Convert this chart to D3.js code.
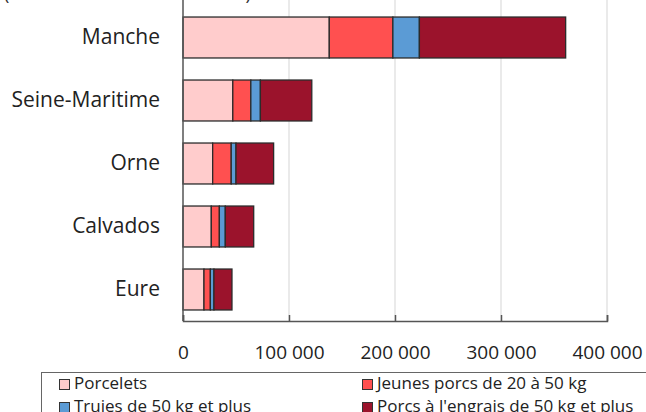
<!DOCTYPE html>
<html>
<head>
<meta charset="utf-8">
<title>Cheptel porcin par département</title>
<script src="https://cdn.jsdelivr.net/npm/d3@7"></script>
<style>
  body { margin: 0; background: #fff; }
  svg { display: block; }
</style>
</head>
<body>
<svg width="646" height="412"></svg>
<script>
// données (nombre de têtes)
var departements = ["Manche", "Seine-Maritime", "Orne", "Calvados", "Eure"];
var series = ["Porcelets", "Jeunes porcs de 20 à 50 kg", "Truies de 50 kg et plus", "Porcs à l'engrais de 50 kg et plus"];
var porcelets = [138000, 47000, 28000, 26700, 19800];
var jeunes    = [60000, 17000, 17500, 7600, 6000];
var truies    = [25000, 9000, 4500, 5600, 3400];
var engrais   = [138000, 48500, 35500, 26800, 17000];
var ticks = [0, 100000, 200000, 300000, 400000];
var couleurs = ["#ffcccc", "#ff5050", "#5b9bd5", "#9b132c"];

var svg = d3.select("svg");
var font = "'Open Sans', sans-serif";

var x = d3.scaleLinear().domain([0, 400000]).range([183, 607]);
var y = d3.scaleBand().domain(departements).range([6, 321]).paddingInner(0.35).paddingOuter(0.175);

// tableau pour d3.stack
var table = departements.map(function (d, i) {
  var o = { dep: d };
  o[series[0]] = porcelets[i];
  o[series[1]] = jeunes[i];
  o[series[2]] = truies[i];
  o[series[3]] = engrais[i];
  return o;
});
var stacked = d3.stack().keys(series)(table);

// titre (coupé en haut)
svg.append("text")
  .attr("x", 4).attr("y", 0)
  .attr("font-family", font).attr("font-size", 18).attr("fill", "#333")
  .text("(effectifs en nombre de têtes)");

// grille verticale
svg.append("g").selectAll("line")
  .data(ticks.slice(1))
  .join("line")
  .attr("x1", d => x(d)).attr("x2", d => x(d))
  .attr("y1", 0).attr("y2", 321)
  .attr("stroke", "#e3e3e3").attr("stroke-width", 1.5);

// barres
svg.append("g").selectAll("g")
  .data(stacked)
  .join("g")
  .attr("fill", (d, i) => couleurs[i])
  .selectAll("rect")
  .data(d => d)
  .join("rect")
  .attr("x", d => x(d[0]))
  .attr("y", d => y(d.data.dep))
  .attr("width", d => x(d[1]) - x(d[0]))
  .attr("height", y.bandwidth())
  .attr("stroke", "#2b2b2b").attr("stroke-width", 1.3);

// axe x
var xAxis = d3.axisBottom(x).tickValues(ticks).tickSize(-6).tickPadding(25)
  .tickFormat(d => d3.format(",")(d).replace(/,/g, " "));
var gx = svg.append("g").attr("transform", "translate(0,321)").call(xAxis);
gx.select(".domain").attr("stroke", "#555").attr("stroke-width", 1.5);
gx.selectAll(".tick line").attr("stroke", "#555").attr("stroke-width", 1.5);
gx.selectAll("text").attr("font-family", font).attr("font-size", 19).attr("fill", "#222");

// axe y
var yAxis = d3.axisLeft(y).tickSize(0).tickPadding(23);
var gy = svg.append("g").attr("transform", "translate(183,0)").call(yAxis);
gy.select(".domain").attr("stroke", "#555").attr("stroke-width", 1.5).attr("d", "M0,0V321");
gy.selectAll("text").attr("font-family", font).attr("font-size", 21).attr("fill", "#222");

// légende
var leg = svg.append("g");
leg.append("rect")
  .attr("x", 41.5).attr("y", 372.5).attr("width", 640).attr("height", 60)
  .attr("fill", "none").attr("stroke", "#666");
var items = leg.selectAll("g.item")
  .data(series)
  .join("g")
  .attr("class", "item")
  .attr("transform", (d, i) => "translate(" + (i % 2 === 0 ? 59 : 362) + "," + (i < 2 ? 389 : 412) + ")");
items.append("rect")
  .attr("x", 0.5).attr("y", -9.5).attr("width", 10).attr("height", 10)
  .attr("fill", (d, i) => couleurs[i]).attr("stroke", "#333");
items.append("text")
  .attr("x", 15)
  .attr("font-family", font).attr("font-size", 17).attr("fill", "#222")
  .text(d => d);
</script>
</body>
</html>
